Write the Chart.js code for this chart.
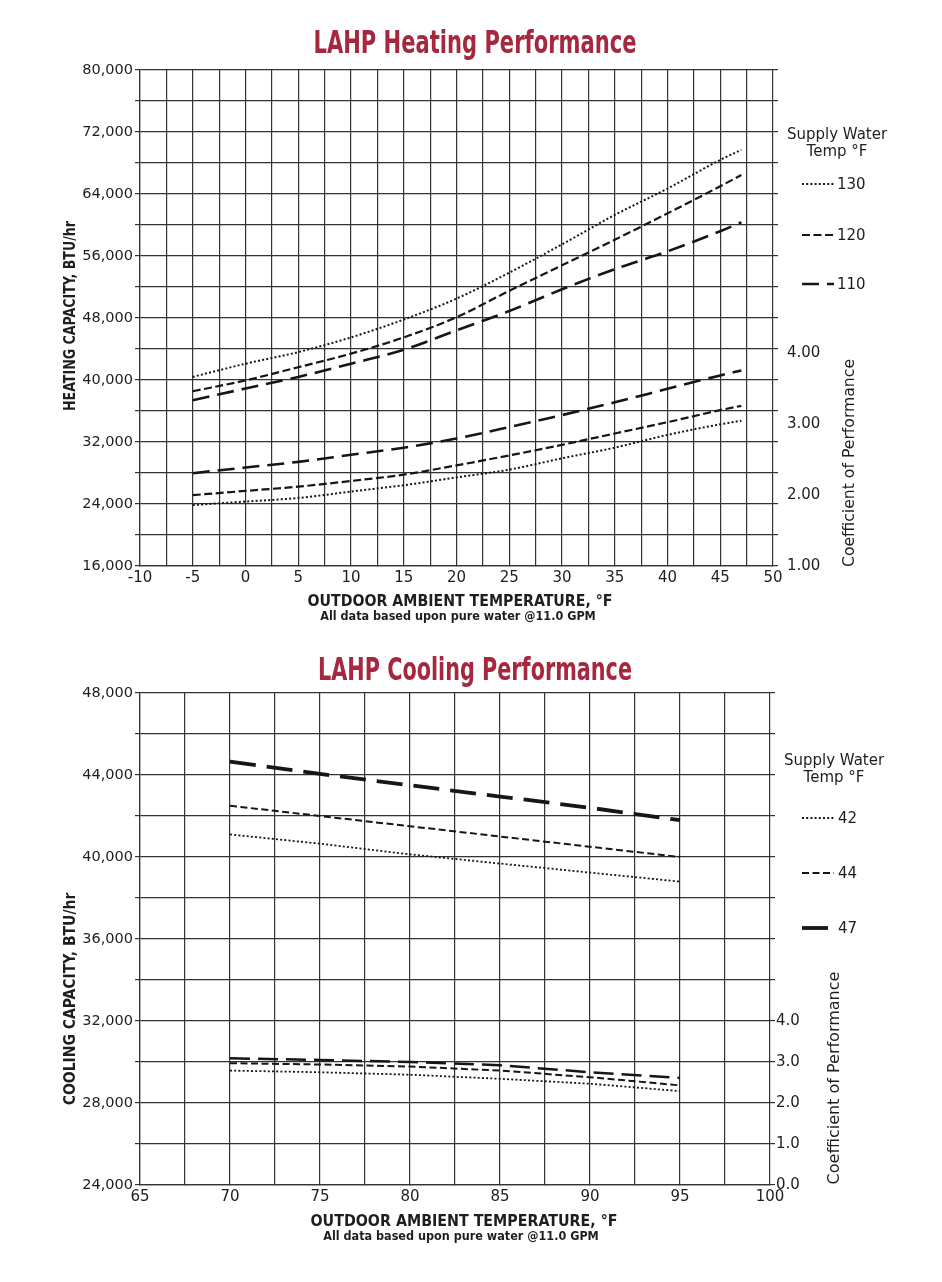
<!DOCTYPE html>
<html>
<head>
<meta charset="utf-8">
<title>LAHP Heating / Cooling Performance</title>
<script src="https://cdn.jsdelivr.net/npm/chart.js@4.4.0/dist/chart.umd.min.js"></script>
<style>
  html, body { margin: 0; padding: 0; background: #fff; }
  #wrap { position: relative; width: 942px; height: 1282px; }
  canvas { position: absolute; left: 0; }
  #heatChart { top: 0; }
  #coolChart { top: 640px; }
</style>
</head>
<body>
<div id="wrap">
  <canvas id="heatChart" width="942" height="640"></canvas>
  <canvas id="coolChart" width="942" height="642"></canvas>
</div>
<script>
// heating performance
const heatTemps = [-5, 0, 5, 10, 15, 20, 25, 30, 35, 40, 45, 47];
const heatSupply = ['130', '120', '110'];
const heatCap130 = [40400, 42100, 43600, 45500, 47800, 50500, 53850, 57500, 61300, 64700, 68400, 69700];
const heatCap120 = [38550, 39950, 41650, 43400, 45500, 48100, 51500, 54800, 58100, 61500, 65000, 66450];
const heatCap110 = [37400, 38900, 40400, 42100, 43900, 46400, 48900, 51700, 54300, 56600, 59200, 60350];
const heatCop130 = [1.86, 1.91, 1.96, 2.05, 2.14, 2.25, 2.36, 2.52, 2.67, 2.85, 3.00, 3.05];
const heatCop120 = [2.00, 2.06, 2.12, 2.20, 2.29, 2.42, 2.56, 2.71, 2.87, 3.03, 3.20, 3.26];
const heatCop110 = [2.31, 2.39, 2.47, 2.57, 2.67, 2.80, 2.96, 3.13, 3.31, 3.50, 3.69, 3.76];

// cooling performance
const coolTemps = [70, 75, 80, 85, 90, 95];
const coolSupply = ['42', '44', '47'];
const coolCap42 = [41100, 40650, 40130, 39680, 39240, 38800];
const coolCap44 = [42500, 42000, 41500, 41000, 40500, 40000];
const coolCap47 = [44650, 44050, 43500, 42950, 42400, 41800];
const coolCop42 = [2.79, 2.75, 2.69, 2.59, 2.47, 2.29];
const coolCop44 = [2.97, 2.94, 2.89, 2.79, 2.63, 2.43];
const coolCop47 = [3.09, 3.05, 3.00, 2.92, 2.75, 2.61];

// line looks, one per supply temp
const heatStyles = [
  { dash: [2, 2.2], width: 2 },
  { dash: [8, 3.5], width: 2.2 },
  { dash: [17, 8], width: 2.6 }
];
const coolStyles = [
  { dash: [2, 2.2], width: 1.8, copDash: [2, 2.2], copWidth: 1.8 },
  { dash: [7, 3.5], width: 2, copDash: [7, 3.5], copWidth: 2 },
  { dash: [26, 11], width: 3.8, copDash: [20, 8], copWidth: 2.5 }
];

const INK = '#161616';
const GRID = '#333';
const TEXT = '#1e1e1e';
const FONT = "'DejaVu Sans', sans-serif";
const COND = "'DejaVu Sans Condensed', 'DejaVu Sans', sans-serif";

Chart.defaults.font.family = FONT;
Chart.defaults.color = TEXT;

function pts(xs, ys) {
  return xs.map((x, i) => ({ x: x, y: ys[i] }));
}

function buildSets(temps, caps, cops, styles, smooth) {
  const sets = [];
  caps.forEach((cap, i) => {
    const st = styles[i];
    sets.push({
      data: pts(temps, cap), yAxisID: 'y',
      borderColor: INK, borderWidth: st.width, borderDash: st.dash,
      pointRadius: 0, fill: false,
      cubicInterpolationMode: smooth ? 'monotone' : 'default'
    });
    sets.push({
      data: pts(temps, cops[i]), yAxisID: 'cop',
      borderColor: INK, borderWidth: st.copWidth || st.width, borderDash: st.copDash || st.dash,
      pointRadius: 0, fill: false,
      cubicInterpolationMode: smooth ? 'monotone' : 'default'
    });
  });
  return sets;
}

function buildScales(o) {
  const gridLine = { color: GRID, lineWidth: 1.2 };
  return {
    x: {
      type: 'linear', min: o.xMin, max: o.xMax,
      ticks: {
        stepSize: 2.5, autoSkip: false, maxRotation: 0, padding: 3,
        font: { size: 15 },
        callback: v => (v % 5 === 0 ? String(v) : '')
      },
      grid: Object.assign({ tickLength: 0 }, gridLine),
      border: { color: GRID, width: 1.2 },
      afterFit: s => { s.height = o.xHeight; }
    },
    y: {
      position: 'left', min: o.yMin, max: o.yMax,
      ticks: {
        stepSize: o.yStep, autoSkip: false, padding: 2,
        font: { size: 14.5 },
        callback: v => (v % o.yLabelStep === 0 ? v.toLocaleString('en-US') : '')
      },
      grid: Object.assign({ tickLength: 5 }, gridLine),
      border: { color: GRID, width: 1.2 },
      afterFit: s => { s.width = 140; }
    },
    yr: {
      position: 'right', min: o.yMin, max: o.yMax, weight: 0,
      ticks: { display: false, stepSize: o.yStep, autoSkip: false },
      grid: Object.assign({ drawOnChartArea: false, tickLength: 5 }, gridLine),
      border: { display: false },
      afterFit: s => { s.width = 5; }
    },
    cop: {
      position: 'right', min: o.copMin, max: o.copMax, weight: 1,
      ticks: {
        stepSize: 1, autoSkip: false, padding: o.copPad,
        font: { size: 15 },
        callback: v => (v <= 4 ? v.toFixed(o.copDigits) : '')
      },
      grid: { display: false, drawTicks: false },
      border: { display: false },
      afterFit: s => { s.width = o.copWidth; }
    }
  };
}

// titles, axis captions and the supply-water key
const sheetText = {
  id: 'sheetText',
  afterDraw(chart, args, o) {
    const ctx = chart.ctx;
    ctx.save();
    ctx.textAlign = 'center';
    ctx.textBaseline = 'alphabetic';

    ctx.fillStyle = '#a5283f';
    ctx.font = 'bold 32px ' + COND;
    ctx.fillText(o.title, o.titleX, o.titleY, o.titleW);

    ctx.fillStyle = TEXT;
    ctx.font = 'bold 16px ' + COND;
    ctx.fillText('OUTDOOR AMBIENT TEMPERATURE, °F', o.xTitleX, o.xTitleY, o.xTitleW);
    ctx.font = 'bold 12.5px ' + COND;
    ctx.fillText('All data based upon pure water @11.0 GPM', o.noteX, o.noteY, o.noteW);

    // vertical captions
    ctx.textBaseline = 'middle';
    ctx.save();
    ctx.translate(o.yTitleX, o.yTitleY);
    ctx.rotate(-Math.PI / 2);
    ctx.font = 'bold 15.5px ' + COND;
    ctx.fillText(o.yTitle, 0, 0, o.yTitleW);
    ctx.restore();

    ctx.save();
    ctx.translate(o.copTitleX, o.copTitleY);
    ctx.rotate(-Math.PI / 2);
    ctx.font = '16px ' + FONT;
    ctx.fillText('Coefficient of Performance', 0, 0, o.copTitleW);
    ctx.restore();

    // key
    const k = o.key;
    ctx.font = '15px ' + FONT;
    ctx.fillText('Supply Water', k.headX, k.headY);
    ctx.fillText('Temp °F', k.headX, k.headY + 17);
    ctx.textAlign = 'left';
    k.labels.forEach((lab, i) => {
      const st = k.styles[i];
      const y = k.itemY[i];
      ctx.beginPath();
      ctx.setLineDash(st.keyDash || st.dash);
      ctx.lineWidth = st.keyWidth || st.width;
      ctx.strokeStyle = INK;
      ctx.moveTo(k.lineX0, y);
      ctx.lineTo(k.lineX1, y);
      ctx.stroke();
      ctx.setLineDash([]);
      ctx.fillText(lab, k.textX, y + 1);
    });
    ctx.restore();
  }
};

function makeChart(id, cfg) {
  return new Chart(document.getElementById(id), {
    type: 'line',
    data: { datasets: cfg.datasets },
    options: {
      responsive: false,
      animation: false,
      layout: { padding: { left: 0, right: 0, top: cfg.top, bottom: 0 } },
      scales: cfg.scales,
      plugins: {
        legend: { display: false },
        tooltip: { enabled: false },
        sheetText: cfg.text
      }
    },
    plugins: [sheetText]
  });
}

makeChart('heatChart', {
  top: 70,
  datasets: buildSets(heatTemps,
    [heatCap130, heatCap120, heatCap110],
    [heatCop130, heatCop120, heatCop110], heatStyles, true),
  scales: buildScales({
    xMin: -10, xMax: 50, xHeight: 74,
    yMin: 16000, yMax: 80000, yStep: 4000, yLabelStep: 8000,
    copMin: 1, copMax: 8, copDigits: 2, copPad: 9, copWidth: 164
  }),
  text: {
    title: 'LAHP Heating Performance', titleX: 475, titleY: 53, titleW: 323,
    xTitleX: 460, xTitleY: 606, xTitleW: 305,
    noteX: 458, noteY: 620, noteW: 285,
    yTitle: 'HEATING CAPACITY, BTU/hr', yTitleX: 71, yTitleY: 316, yTitleW: 190,
    copTitleX: 850, copTitleY: 463, copTitleW: 208,
    key: {
      labels: heatSupply, styles: heatStyles,
      headX: 837, headY: 135, itemY: [184, 235, 284],
      lineX0: 802, lineX1: 834, textX: 837
    }
  }
});

makeChart('coolChart', {
  top: 53,
  datasets: buildSets(coolTemps,
    [coolCap42, coolCap44, coolCap47],
    [coolCop42, coolCop44, coolCop47], coolStyles, false),
  scales: buildScales({
    xMin: 65, xMax: 100, xHeight: 97,
    yMin: 24000, yMax: 48000, yStep: 2000, yLabelStep: 4000,
    copMin: 0, copMax: 12, copDigits: 1, copPad: 1, copWidth: 167
  }),
  text: {
    title: 'LAHP Cooling Performance', titleX: 475, titleY: 40, titleW: 314,
    xTitleX: 464, xTitleY: 586, xTitleW: 307,
    noteX: 461, noteY: 600, noteW: 285,
    yTitle: 'COOLING CAPACITY, BTU/hr', yTitleX: 71, yTitleY: 359, yTitleW: 222,
    copTitleX: 835, copTitleY: 438, copTitleW: 217,
    key: {
      labels: coolSupply, styles: coolStyles,
      headX: 834, headY: 121, itemY: [178, 233, 288],
      lineX0: 802, lineX1: 834, textX: 838
    }
  }
});
</script>
</body>
</html>
